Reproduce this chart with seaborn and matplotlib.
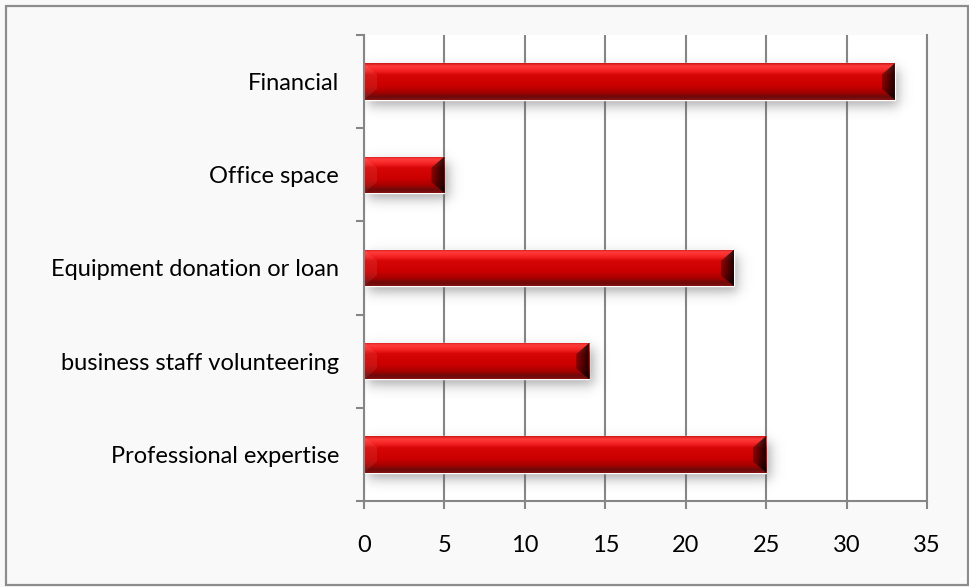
import numpy as np
import matplotlib
matplotlib.use("Agg")
import matplotlib.pyplot as plt
import seaborn as sns
import pandas as pd
from matplotlib.patches import Polygon, Rectangle
from matplotlib.colors import LinearSegmentedColormap

# Forms of support received
categories = ["Financial", "Office space", "Equipment donation or loan",
              "business staff volunteering", "Professional expertise"]
counts = [33, 5, 23, 14, 25]
x_ticks = [0, 5, 10, 15, 20, 25, 30, 35]

sns.set_theme(style="white")
plt.rcParams['font.family'] = ['Lato', 'DejaVu Sans']

W, H, DPI = 970, 587, 100
fig = plt.figure(figsize=(W / DPI, H / DPI), dpi=DPI, facecolor='#f9f9f9')
left, right, top, bottom = 364, 927, 35, 501
ax = fig.add_axes([left / W, 1 - bottom / H, (right - left) / W, (bottom - top) / H])
ax.set_facecolor('white')

df = pd.DataFrame({"category": categories, "count": counts})
sns.barplot(data=df, x="count", y="category", orient="h", color="#cc0000",
            saturation=1, width=0.39, ax=ax, zorder=2)

xmax = x_ticks[-1]
ax.set_xlim(0, xmax)
ax.set_ylim(len(categories) - 0.5, -0.5)
ax.set_xlabel("")
ax.set_ylabel("")

grid_c = '#868686'
lw = 1.5
ax.set_axisbelow(True)
ax.xaxis.grid(True, color=grid_c, lw=lw)
ax.yaxis.grid(False)
for side in ['left', 'bottom', 'right']:
    ax.spines[side].set_visible(True)
    ax.spines[side].set_color(grid_c)
    ax.spines[side].set_linewidth(lw)
ax.spines['top'].set_visible(False)

ax.set_xticks(x_ticks)
ax.tick_params(axis='x', bottom=True, length=6, width=lw, color=grid_c,
               pad=18.5, labelsize=17, labelcolor='black')
ax.set_yticks(range(len(categories)))
ax.set_yticks(np.arange(-0.5, len(categories), 1), minor=True)
ax.tick_params(axis='y', which='major', length=0, pad=18, labelsize=17,
               labelcolor='black')
ax.tick_params(axis='y', which='minor', left=True, length=6, width=lw,
               color=grid_c)

# pixel scale of the data axes
ux = (right - left) / xmax
uy = (bottom - top) / len(categories)

face_cmap = LinearSegmentedColormap.from_list("bevel", [
    (0.00, '#cc1616'), (0.08, '#ff3b3b'), (0.20, '#f62424'),
    (0.32, '#d60606'), (0.60, '#cc0000'), (0.78, '#aa0000'),
    (0.92, '#6a0a0a'), (1.00, '#8a1212')])


def sig(v):
    return 1.0 / (1.0 + np.exp(-v))


bars = list(ax.patches)
for p in bars:
    x0, w = p.get_x(), p.get_width()
    yt, h = p.get_y(), p.get_height()
    x1, yb = x0 + w, yt + h

    # soft drop shadow, down and to the right
    ox, oy = 4 / ux, 6 / uy
    sx, sy = 3.5 / ux, 3.5 / uy
    mx, my = 20 / ux, 20 / uy
    gx = np.linspace(x0 - mx, x1 + mx, 400)
    gy = np.linspace(yt - my, yb + my, 120)
    ax_a = sig((gx - (x0 + ox)) / sx) - sig((gx - (x1 + ox)) / sx)
    ay_a = sig((gy - (yt + oy)) / sy) - sig((gy - (yb + oy)) / sy)
    alpha = 0.5 * np.outer(ay_a, ax_a)
    shadow = np.zeros((len(gy), len(gx), 4))
    shadow[..., :3] = 0.35
    shadow[..., 3] = alpha
    ax.imshow(shadow, extent=(x0 - mx, x1 + mx, yb + my, yt - my),
              origin='upper', aspect='auto', zorder=1.5, interpolation='bilinear')

    # vertical bevel gradient across the bar
    grad = np.linspace(0, 1, 256).reshape(-1, 1)
    im = ax.imshow(grad, extent=(x0, x1, yb, yt), origin='upper', aspect='auto',
                   cmap=face_cmap, vmin=0, vmax=1, zorder=2.1,
                   interpolation='bilinear')
    im.set_clip_path(p)

    bx, by = 13 / ux, 11 / uy
    # left end facet
    lf = Polygon([(x0, yt), (x0 + bx, yt + by), (x0 + bx, yb - by), (x0, yb)],
                 closed=True, facecolor='white', alpha=0.07, edgecolor='none',
                 zorder=2.2)
    ax.add_patch(lf)
    # right end facet, darkening towards the edge
    rf = Polygon([(x1, yt), (x1 - bx, yt + by), (x1 - bx, yb - by), (x1, yb)],
                 closed=True, facecolor='none', edgecolor='none', zorder=2.2)
    ax.add_patch(rf)
    hg = np.zeros((2, 64, 4))
    hg[..., 3] = np.linspace(0.3, 0.85, 64)[None, :]
    rim = ax.imshow(hg, extent=(x1 - bx, x1, yb, yt), origin='upper',
                    aspect='auto', zorder=2.3, interpolation='bilinear')
    rim.set_clip_path(rf)

ax.set_xlim(0, xmax)
ax.set_ylim(len(categories) - 0.5, -0.5)

# outer chart frame
fig.add_artist(Rectangle((6 / W, 2 / H), (W - 8) / W, (H - 8) / H,
                         transform=fig.transFigure, fill=False,
                         edgecolor='#8c8c8c', lw=1.6))

fig.savefig("out.png", dpi=DPI, facecolor=fig.get_facecolor())
